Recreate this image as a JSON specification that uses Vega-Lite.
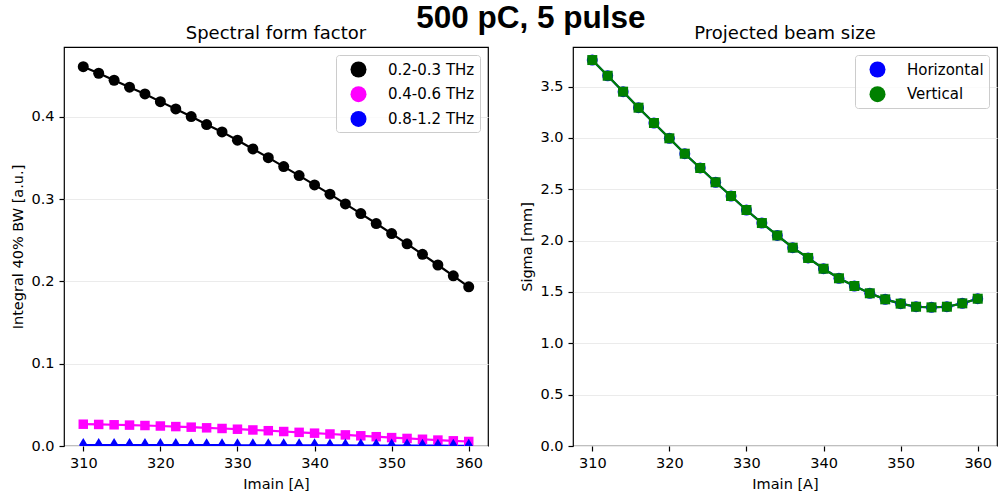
{
  "$schema": "https://vega.github.io/schema/vega-lite/v6.json",
  "padding": {"left": 10, "top": 2, "right": 0, "bottom": 5},
  "background": "white",
  "title": {"text": "500 pC, 5 pulse", "font": "Liberation Sans", "fontSize": 31.5, "fontWeight": "bold", "color": "black", "anchor": "middle", "dx": 27, "offset": -10},
  "config": {
    "font": "DejaVu Sans",
    "view": {"stroke": "black", "strokeWidth": 1.2},
    "axis": {"labelFont": "DejaVu Sans", "titleFont": "DejaVu Sans", "labelFontSize": 14.5, "titleFontSize": 14.5, "titleFontWeight": "normal", "labelColor": "black", "titleColor": "black", "tickColor": "black", "tickWidth": 1.2, "domain": false, "tickSize": 5, "labelPadding": 5, "titlePadding": 5, "gridColor": "#ebebeb", "gridWidth": 1},
    "axisX": {"grid": false, "titlePadding": 8},
    "axisY": {"grid": true},
    "title": {"font": "DejaVu Sans", "fontSize": 18, "fontWeight": "normal", "color": "black", "offset": 4},
    "legend": {"orient": "top-right", "offset": 8, "padding": 5, "strokeColor": "#cccccc", "fillColor": "rgba(255,255,255,0.8)", "cornerRadius": 3, "labelFont": "DejaVu Sans", "labelFontSize": 15, "labelColor": "black", "rowPadding": 6.7, "symbolOffset": 8, "labelOffset": 20, "symbolSize": 256, "symbolStrokeWidth": 2.2, "title": null},
    "concat": {"spacing": 30}
  },
  "resolve": {"scale": {"color": "independent", "x": "independent", "y": "independent"}, "legend": {"color": "independent"}},
  "datasets": {
    "sff": [
      {"Imain": 310, "band": "0.2-0.3 THz", "val": 0.4611},
      {"Imain": 312, "band": "0.2-0.3 THz", "val": 0.4531},
      {"Imain": 314, "band": "0.2-0.3 THz", "val": 0.4446},
      {"Imain": 316, "band": "0.2-0.3 THz", "val": 0.4361},
      {"Imain": 318, "band": "0.2-0.3 THz", "val": 0.4280},
      {"Imain": 320, "band": "0.2-0.3 THz", "val": 0.4186},
      {"Imain": 322, "band": "0.2-0.3 THz", "val": 0.4097},
      {"Imain": 324, "band": "0.2-0.3 THz", "val": 0.4004},
      {"Imain": 326, "band": "0.2-0.3 THz", "val": 0.3907},
      {"Imain": 328, "band": "0.2-0.3 THz", "val": 0.3818},
      {"Imain": 330, "band": "0.2-0.3 THz", "val": 0.3717},
      {"Imain": 332, "band": "0.2-0.3 THz", "val": 0.3611},
      {"Imain": 334, "band": "0.2-0.3 THz", "val": 0.3505},
      {"Imain": 336, "band": "0.2-0.3 THz", "val": 0.3396},
      {"Imain": 338, "band": "0.2-0.3 THz", "val": 0.3287},
      {"Imain": 340, "band": "0.2-0.3 THz", "val": 0.3174},
      {"Imain": 342, "band": "0.2-0.3 THz", "val": 0.3061},
      {"Imain": 344, "band": "0.2-0.3 THz", "val": 0.2943},
      {"Imain": 346, "band": "0.2-0.3 THz", "val": 0.2825},
      {"Imain": 348, "band": "0.2-0.3 THz", "val": 0.2704},
      {"Imain": 350, "band": "0.2-0.3 THz", "val": 0.2582},
      {"Imain": 352, "band": "0.2-0.3 THz", "val": 0.2457},
      {"Imain": 354, "band": "0.2-0.3 THz", "val": 0.2330},
      {"Imain": 356, "band": "0.2-0.3 THz", "val": 0.2200},
      {"Imain": 358, "band": "0.2-0.3 THz", "val": 0.2068},
      {"Imain": 360, "band": "0.2-0.3 THz", "val": 0.1935},
      {"Imain": 310, "band": "0.4-0.6 THz", "val": 0.0265},
      {"Imain": 312, "band": "0.4-0.6 THz", "val": 0.0262},
      {"Imain": 314, "band": "0.4-0.6 THz", "val": 0.0258},
      {"Imain": 316, "band": "0.4-0.6 THz", "val": 0.0254},
      {"Imain": 318, "band": "0.4-0.6 THz", "val": 0.0249},
      {"Imain": 320, "band": "0.4-0.6 THz", "val": 0.0243},
      {"Imain": 322, "band": "0.4-0.6 THz", "val": 0.0236},
      {"Imain": 324, "band": "0.4-0.6 THz", "val": 0.0229},
      {"Imain": 326, "band": "0.4-0.6 THz", "val": 0.0221},
      {"Imain": 328, "band": "0.4-0.6 THz", "val": 0.0213},
      {"Imain": 330, "band": "0.4-0.6 THz", "val": 0.0204},
      {"Imain": 332, "band": "0.4-0.6 THz", "val": 0.0195},
      {"Imain": 334, "band": "0.4-0.6 THz", "val": 0.0186},
      {"Imain": 336, "band": "0.4-0.6 THz", "val": 0.0176},
      {"Imain": 338, "band": "0.4-0.6 THz", "val": 0.0166},
      {"Imain": 340, "band": "0.4-0.6 THz", "val": 0.0156},
      {"Imain": 342, "band": "0.4-0.6 THz", "val": 0.0146},
      {"Imain": 344, "band": "0.4-0.6 THz", "val": 0.0135},
      {"Imain": 346, "band": "0.4-0.6 THz", "val": 0.0124},
      {"Imain": 348, "band": "0.4-0.6 THz", "val": 0.0113},
      {"Imain": 350, "band": "0.4-0.6 THz", "val": 0.0102},
      {"Imain": 352, "band": "0.4-0.6 THz", "val": 0.0092},
      {"Imain": 354, "band": "0.4-0.6 THz", "val": 0.0082},
      {"Imain": 356, "band": "0.4-0.6 THz", "val": 0.0072},
      {"Imain": 358, "band": "0.4-0.6 THz", "val": 0.0063},
      {"Imain": 360, "band": "0.4-0.6 THz", "val": 0.0055},
      {"Imain": 310, "band": "0.8-1.2 THz", "val": 0.0012},
      {"Imain": 312, "band": "0.8-1.2 THz", "val": 0.0012},
      {"Imain": 314, "band": "0.8-1.2 THz", "val": 0.0012},
      {"Imain": 316, "band": "0.8-1.2 THz", "val": 0.0011},
      {"Imain": 318, "band": "0.8-1.2 THz", "val": 0.0011},
      {"Imain": 320, "band": "0.8-1.2 THz", "val": 0.0011},
      {"Imain": 322, "band": "0.8-1.2 THz", "val": 0.0011},
      {"Imain": 324, "band": "0.8-1.2 THz", "val": 0.0010},
      {"Imain": 326, "band": "0.8-1.2 THz", "val": 0.0010},
      {"Imain": 328, "band": "0.8-1.2 THz", "val": 0.0010},
      {"Imain": 330, "band": "0.8-1.2 THz", "val": 0.0009},
      {"Imain": 332, "band": "0.8-1.2 THz", "val": 0.0009},
      {"Imain": 334, "band": "0.8-1.2 THz", "val": 0.0009},
      {"Imain": 336, "band": "0.8-1.2 THz", "val": 0.0008},
      {"Imain": 338, "band": "0.8-1.2 THz", "val": 0.0008},
      {"Imain": 340, "band": "0.8-1.2 THz", "val": 0.0008},
      {"Imain": 342, "band": "0.8-1.2 THz", "val": 0.0007},
      {"Imain": 344, "band": "0.8-1.2 THz", "val": 0.0007},
      {"Imain": 346, "band": "0.8-1.2 THz", "val": 0.0006},
      {"Imain": 348, "band": "0.8-1.2 THz", "val": 0.0006},
      {"Imain": 350, "band": "0.8-1.2 THz", "val": 0.0005},
      {"Imain": 352, "band": "0.8-1.2 THz", "val": 0.0005},
      {"Imain": 354, "band": "0.8-1.2 THz", "val": 0.0004},
      {"Imain": 356, "band": "0.8-1.2 THz", "val": 0.0004},
      {"Imain": 358, "band": "0.8-1.2 THz", "val": 0.0003},
      {"Imain": 360, "band": "0.8-1.2 THz", "val": 0.0003}
    ],
    "beam": [
      {"Imain": 310, "plane": "Horizontal", "sigma": 3.758},
      {"Imain": 312, "plane": "Horizontal", "sigma": 3.605},
      {"Imain": 314, "plane": "Horizontal", "sigma": 3.450},
      {"Imain": 316, "plane": "Horizontal", "sigma": 3.294},
      {"Imain": 318, "plane": "Horizontal", "sigma": 3.145},
      {"Imain": 320, "plane": "Horizontal", "sigma": 2.996},
      {"Imain": 322, "plane": "Horizontal", "sigma": 2.846},
      {"Imain": 324, "plane": "Horizontal", "sigma": 2.707},
      {"Imain": 326, "plane": "Horizontal", "sigma": 2.568},
      {"Imain": 328, "plane": "Horizontal", "sigma": 2.434},
      {"Imain": 330, "plane": "Horizontal", "sigma": 2.298},
      {"Imain": 332, "plane": "Horizontal", "sigma": 2.171},
      {"Imain": 334, "plane": "Horizontal", "sigma": 2.050},
      {"Imain": 336, "plane": "Horizontal", "sigma": 1.931},
      {"Imain": 338, "plane": "Horizontal", "sigma": 1.831},
      {"Imain": 340, "plane": "Horizontal", "sigma": 1.726},
      {"Imain": 342, "plane": "Horizontal", "sigma": 1.633},
      {"Imain": 344, "plane": "Horizontal", "sigma": 1.558},
      {"Imain": 346, "plane": "Horizontal", "sigma": 1.487},
      {"Imain": 348, "plane": "Horizontal", "sigma": 1.428},
      {"Imain": 350, "plane": "Horizontal", "sigma": 1.386},
      {"Imain": 352, "plane": "Horizontal", "sigma": 1.356},
      {"Imain": 354, "plane": "Horizontal", "sigma": 1.350},
      {"Imain": 356, "plane": "Horizontal", "sigma": 1.356},
      {"Imain": 358, "plane": "Horizontal", "sigma": 1.389},
      {"Imain": 360, "plane": "Horizontal", "sigma": 1.434},
      {"Imain": 310, "plane": "Vertical", "sigma": 3.758},
      {"Imain": 312, "plane": "Vertical", "sigma": 3.605},
      {"Imain": 314, "plane": "Vertical", "sigma": 3.450},
      {"Imain": 316, "plane": "Vertical", "sigma": 3.294},
      {"Imain": 318, "plane": "Vertical", "sigma": 3.145},
      {"Imain": 320, "plane": "Vertical", "sigma": 2.996},
      {"Imain": 322, "plane": "Vertical", "sigma": 2.846},
      {"Imain": 324, "plane": "Vertical", "sigma": 2.707},
      {"Imain": 326, "plane": "Vertical", "sigma": 2.568},
      {"Imain": 328, "plane": "Vertical", "sigma": 2.434},
      {"Imain": 330, "plane": "Vertical", "sigma": 2.298},
      {"Imain": 332, "plane": "Vertical", "sigma": 2.171},
      {"Imain": 334, "plane": "Vertical", "sigma": 2.050},
      {"Imain": 336, "plane": "Vertical", "sigma": 1.931},
      {"Imain": 338, "plane": "Vertical", "sigma": 1.831},
      {"Imain": 340, "plane": "Vertical", "sigma": 1.726},
      {"Imain": 342, "plane": "Vertical", "sigma": 1.633},
      {"Imain": 344, "plane": "Vertical", "sigma": 1.558},
      {"Imain": 346, "plane": "Vertical", "sigma": 1.487},
      {"Imain": 348, "plane": "Vertical", "sigma": 1.428},
      {"Imain": 350, "plane": "Vertical", "sigma": 1.386},
      {"Imain": 352, "plane": "Vertical", "sigma": 1.356},
      {"Imain": 354, "plane": "Vertical", "sigma": 1.350},
      {"Imain": 356, "plane": "Vertical", "sigma": 1.356},
      {"Imain": 358, "plane": "Vertical", "sigma": 1.389},
      {"Imain": 360, "plane": "Vertical", "sigma": 1.434}
    ]
  },
  "hconcat": [
    {
      "width": 424,
      "height": 399,
      "title": "Spectral form factor",
      "data": {"name": "sff"},
      "encoding": {
        "x": {"field": "Imain", "type": "quantitative", "scale": {"domain": [307.5, 362.5], "nice": false, "zero": false}, "axis": {"title": "Imain [A]", "values": [310, 320, 330, 340, 350, 360]}},
        "y": {"field": "val", "type": "quantitative", "scale": {"domain": [0, 0.485], "nice": false}, "axis": {"title": "Integral 40% BW [a.u.]", "values": [0, 0.1, 0.2, 0.3, 0.4], "format": ".1f"}}
      },
      "layer": [
        {"transform": [{"filter": {"field": "band", "equal": "0.2-0.3 THz"}}], "mark": {"type": "line", "color": "#000000", "strokeWidth": 2.2, "clip": true}},
        {"transform": [{"filter": {"field": "band", "equal": "0.4-0.6 THz"}}], "mark": {"type": "line", "color": "#ff00ff", "strokeWidth": 2.2, "clip": true}},
        {"transform": [{"filter": {"field": "band", "equal": "0.8-1.2 THz"}}], "mark": {"type": "line", "color": "#0000ff", "strokeWidth": 2.2, "clip": true}},
        {"mark": {"type": "point", "filled": true, "opacity": 1, "shape": "circle", "size": 0, "clip": true},
          "encoding": {
            "color": {"field": "band", "type": "nominal", "scale": {"domain": ["0.2-0.3 THz", "0.4-0.6 THz", "0.8-1.2 THz"], "range": ["#000000", "#ff00ff", "#0000ff"]},
              "legend": {"encode": {"symbols": {
                "shape": {"value": {"expr": "datum.value === '0.2-0.3 THz' ? 'M-2,0L2,0M0.55,0A0.55,0.55,0,1,1,-0.55,0A0.55,0.55,0,1,1,0.55,0Z' : datum.value === '0.4-0.6 THz' ? 'M-2,0L2,0M-0.5,-0.5L0.5,-0.5L0.5,0.5L-0.5,0.5Z' : 'M-2,0L2,0M0,-0.75L0.45,0L0,0.75L-0.45,0Z'"}},
                "stroke": {"value": {"expr": "datum.value === '0.2-0.3 THz' ? '#000000' : datum.value === '0.4-0.6 THz' ? '#ff00ff' : '#0000ff'"}},
                "strokeWidth": {"value": 2.2},
                "size": {"value": 256}
              }}}
            }
          }
        },
        {"transform": [{"filter": {"field": "band", "equal": "0.2-0.3 THz"}}], "mark": {"type": "point", "filled": true, "opacity": 1, "shape": "circle", "size": 121, "color": "#000000", "clip": true}},
        {"transform": [{"filter": {"field": "band", "equal": "0.4-0.6 THz"}}], "mark": {"type": "point", "filled": true, "opacity": 1, "shape": "square", "size": 90, "color": "#ff00ff", "clip": true}},
        {"transform": [{"filter": {"field": "band", "equal": "0.8-1.2 THz"}}], "mark": {"type": "point", "filled": true, "opacity": 1, "shape": "M0,-1L0.6,0L0,1L-0.6,0Z", "size": 196, "color": "#0000ff", "clip": true}}
      ]
    },
    {
      "width": 424,
      "height": 399,
      "title": "Projected beam size",
      "data": {"name": "beam"},
      "encoding": {
        "x": {"field": "Imain", "type": "quantitative", "scale": {"domain": [307.5, 362.5], "nice": false, "zero": false}, "axis": {"title": "Imain [A]", "values": [310, 320, 330, 340, 350, 360]}},
        "y": {"field": "sigma", "type": "quantitative", "scale": {"domain": [0, 3.885], "nice": false}, "axis": {"title": "Sigma [mm]", "values": [0, 0.5, 1, 1.5, 2, 2.5, 3, 3.5], "format": ".1f"}}
      },
      "layer": [
        {"transform": [{"filter": {"field": "plane", "equal": "Horizontal"}}], "mark": {"type": "line", "color": "#0000ff", "strokeWidth": 2.2, "clip": true}},
        {"transform": [{"filter": {"field": "plane", "equal": "Vertical"}}], "mark": {"type": "line", "color": "#008000", "strokeWidth": 2.2, "clip": true}},
        {"mark": {"type": "point", "filled": true, "opacity": 1, "shape": "circle", "size": 0, "clip": true},
          "encoding": {
            "color": {"field": "plane", "type": "nominal", "scale": {"domain": ["Horizontal", "Vertical"], "range": ["#0000ff", "#008000"]},
              "legend": {"encode": {"symbols": {
                "shape": {"value": {"expr": "datum.value === 'Horizontal' ? 'M-2,0L2,0M0.55,0A0.55,0.55,0,1,1,-0.55,0A0.55,0.55,0,1,1,0.55,0Z' : 'M-2,0L2,0M-0.5,-0.5L0.5,-0.5L0.5,0.5L-0.5,0.5Z'"}},
                "stroke": {"value": {"expr": "datum.value === 'Horizontal' ? '#0000ff' : '#008000'"}},
                "strokeWidth": {"value": 2.2},
                "size": {"value": 256}
              }}}
            }
          }
        },
        {"transform": [{"filter": {"field": "plane", "equal": "Horizontal"}}], "mark": {"type": "point", "filled": true, "opacity": 1, "shape": "circle", "size": 121, "color": "#0000ff", "clip": true}},
        {"transform": [{"filter": {"field": "plane", "equal": "Vertical"}}], "mark": {"type": "point", "filled": true, "opacity": 1, "shape": "square", "size": 100, "color": "#008000", "clip": true}}
      ]
    }
  ]
}
